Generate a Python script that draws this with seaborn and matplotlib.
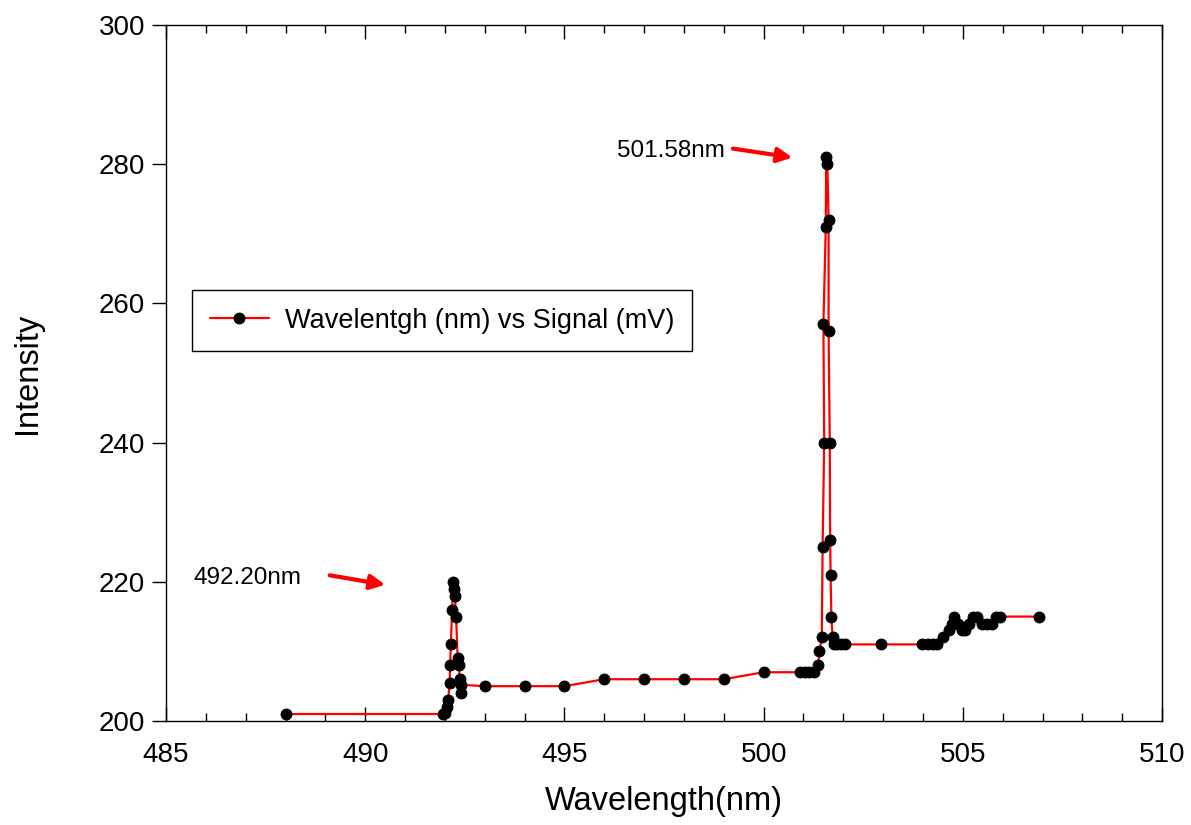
import numpy as np
import pandas as pd
import seaborn as sns
import matplotlib.pyplot as plt
from matplotlib.ticker import MultipleLocator

# wavelength (nm) and signal, in recorded order
wavelength = [488.0, 491.95, 492.0, 492.05, 492.08, 492.12, 492.13, 492.15, 492.18, 492.21,
              492.23, 492.25, 492.28, 492.32, 492.35, 492.37, 492.40, 492.40, 493.0, 494.0,
              495.0, 496.0, 497.0, 498.0, 499.0, 500.0, 500.9, 501.05, 501.15, 501.27,
              501.37, 501.40, 501.46, 501.48, 501.52, 501.50, 501.56, 501.57, 501.60, 501.63,
              501.63, 501.66, 501.67, 501.68, 501.70, 501.73, 501.76, 501.85, 501.95, 502.05,
              502.95, 503.97, 504.13, 504.25, 504.36, 504.51, 504.64, 504.72, 504.78, 504.89,
              504.98, 505.05, 505.15, 505.26, 505.36, 505.47, 505.60, 505.72, 505.83, 505.93,
              506.92]
signal = [201, 201, 201.2, 202, 203, 205.5, 208, 211, 216, 220,
          219, 218, 215, 209, 208, 206, 204, 205.2, 205, 205,
          205, 206, 206, 206, 206, 207, 207, 207, 207, 207,
          208, 210, 212, 225, 240, 257, 271, 281, 280, 272,
          256, 240, 226, 221, 215, 212, 211, 211, 211, 211,
          211, 211, 211, 211, 211, 212, 213, 214, 215, 214,
          213, 213, 214, 215, 215, 214, 214, 214, 215, 215,
          215]

peak_labels = ["492.20nm", "501.58nm"]

df = pd.DataFrame({"wavelength": wavelength, "signal": signal})

sns.set_style("ticks")
plt.rcParams['font.family'] = ['Liberation Sans', 'DejaVu Sans']
plt.rcParams.update({"text.color": "black", "axes.labelcolor": "black",
                     "xtick.color": "black", "ytick.color": "black",
                     "axes.edgecolor": "black"})

fig = plt.figure(figsize=(11.91, 8.25), dpi=100)
ax = fig.add_axes([0.1394, 0.1261, 0.8363, 0.8436])

sns.lineplot(data=df, x="wavelength", y="signal", sort=False, estimator=None,
             color="red", lw=1.6, marker="o", markersize=7.8,
             markerfacecolor="black", markeredgecolor="black",
             label="Wavelentgh (nm) vs Signal (mV)", ax=ax)

ax.set_xlim(485, 510)
ax.set_ylim(200, 300)
ax.xaxis.set_major_locator(MultipleLocator(5))
ax.xaxis.set_minor_locator(MultipleLocator(1))
ax.yaxis.set_major_locator(MultipleLocator(20))
ax.tick_params(axis="x", which="both", direction="in", top=True, labelsize=20, pad=15)
ax.tick_params(axis="x", which="major", length=10, width=1)
ax.tick_params(axis="x", which="minor", length=6, width=1)
ax.tick_params(axis="y", direction="out", length=10, width=1, labelsize=20, pad=5)
for s in ax.spines.values():
    s.set_color("black")
    s.set_linewidth(1)

ax.set_xlabel("Wavelength(nm)", fontsize=23.5, labelpad=13)
ax.set_ylabel("Intensity", fontsize=23.5, labelpad=40)

# peak annotations
ax.text(485.68, 220.5, peak_labels[0], fontsize=17.5, va="center", ha="left")
ax.text(496.32, 281.9, peak_labels[1], fontsize=17.5, va="center", ha="left")
arrow = dict(arrowstyle="-|>", color="red", lw=3, mutation_scale=22)
ax.annotate("", xy=(490.57, 219.5), xytext=(489.04, 221.0), arrowprops=arrow)
ax.annotate("", xy=(500.79, 280.9), xytext=(499.16, 282.3), arrowprops=arrow)

leg = ax.legend(loc="upper left", bbox_to_anchor=(0.026, 0.619), fontsize=19.5,
                frameon=True, fancybox=False, edgecolor="black", framealpha=1,
                handlelength=2.2, handletextpad=0.6, borderpad=0.65, borderaxespad=0)
leg.get_frame().set_linewidth(1)

fig.savefig("out.png", dpi=100)
